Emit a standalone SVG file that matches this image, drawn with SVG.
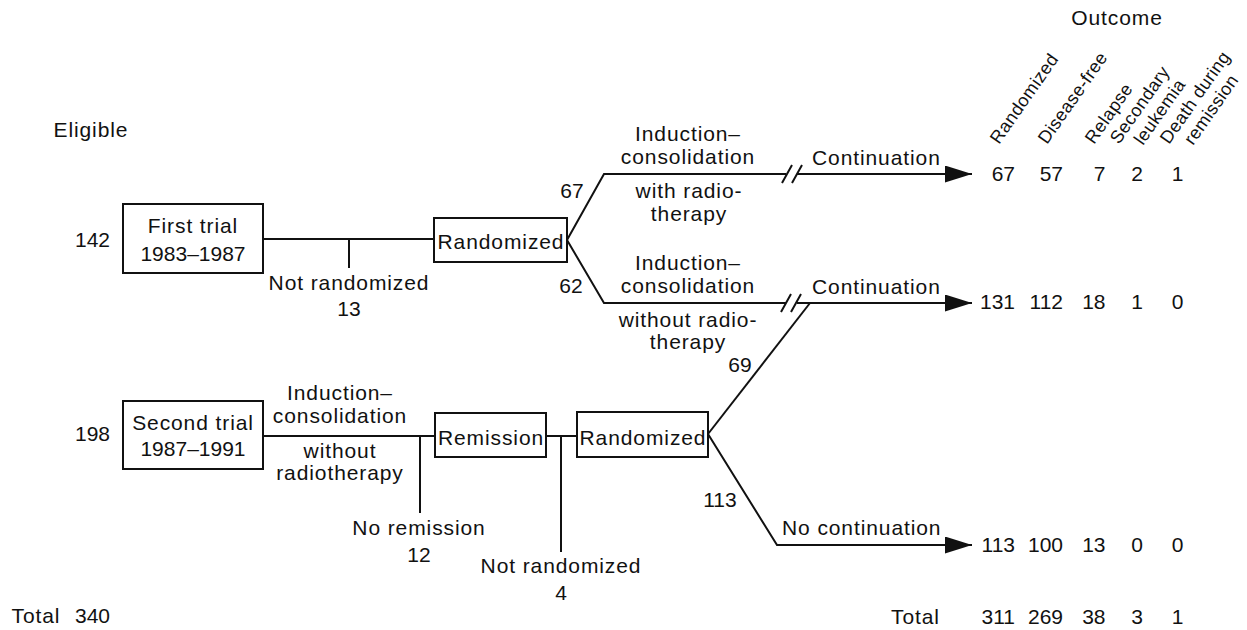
<svg xmlns="http://www.w3.org/2000/svg" width="1247" height="630" viewBox="0 0 1247 630">
<style>
text{font-family:"Liberation Sans",Arial,Helvetica,sans-serif;font-size:21px;letter-spacing:0.9px;fill:#111}
.n{letter-spacing:0}
.m{text-anchor:middle}
.e{text-anchor:end}
.h{font-size:18px;letter-spacing:0.4px}
.box{fill:#fff;stroke:#111;stroke-width:2}
.ln{fill:none;stroke:#111;stroke-width:2}
</style>
<defs>
<marker id="arr" markerUnits="userSpaceOnUse" markerWidth="28" markerHeight="18" refX="27" refY="8.5" orient="auto">
<path d="M0,0 L27,8.5 L0,17 z" fill="#111"/>
</marker>
</defs>
<rect width="1247" height="630" fill="#fff"/>

<g id="connectors">
<path class="ln" d="M263,239 H434"/>
<path class="ln" d="M349,239 V268"/>
<path class="ln" d="M567,240 L604,174 H786"/>
<path class="ln" d="M797,174 H972" marker-end="url(#arr)"/>
<path class="ln" d="M782,183 L792,165 M792,183 L802,165"/>
<path class="ln" d="M567,240 L604,303 H786"/>
<path class="ln" d="M797,303 H972" marker-end="url(#arr)"/>
<path class="ln" d="M781,312 L791,294 M791,312 L801,294"/>
<path class="ln" d="M263,436 H435"/>
<path class="ln" d="M420,436 V513"/>
<path class="ln" d="M546,436 H577"/>
<path class="ln" d="M561,436 V552"/>
<path class="ln" d="M708,434 L810,303"/>
<path class="ln" d="M708,434 L777,545 H972" marker-end="url(#arr)"/>
</g>

<g id="header">
<text x="53.5" y="137">Eligible</text>
<text class="m" x="1117" y="25">Outcome</text>
<text class="h" transform="translate(999,145) rotate(-55)">Randomized</text>
<text class="h" transform="translate(1047,145) rotate(-55)">Disease-free</text>
<text class="h" transform="translate(1094,145) rotate(-55)">Relapse</text>
<text class="h" transform="translate(1119,145) rotate(-55)">Secondary</text>
<text class="h" transform="translate(1143,146) rotate(-55)">leukemia</text>
<text class="h" transform="translate(1169,145) rotate(-55)">Death during</text>
<text class="h" transform="translate(1193,146) rotate(-55)">remission</text>
</g>

<g id="first-trial">
<text class="e n" x="110" y="247">142</text>
<rect class="box" x="123" y="204" width="140" height="69"/>
<text class="m" x="193" y="233">First trial</text>
<text class="m n" x="193" y="261">1983–1987</text>
</g>
<g id="not-randomized-1">
<text class="m" x="349" y="290">Not randomized</text>
<text class="m n" x="349" y="316">13</text>
</g>
<g id="randomized-1">
<rect class="box" x="434" y="218" width="133" height="44"/>
<text class="m" x="501" y="249">Randomized</text>
</g>
<g id="arm-with-rt">
<text class="m n" x="572" y="198">67</text>
<text class="m" x="688" y="141">Induction–</text>
<text class="m" x="688" y="164">consolidation</text>
<text class="m" x="689" y="198">with radio-</text>
<text class="m" x="689" y="221">therapy</text>
<text x="812" y="165">Continuation</text>
</g>
<g id="arm-without-rt">
<text class="m n" x="571" y="293">62</text>
<text class="m" x="688" y="270">Induction–</text>
<text class="m" x="688" y="293">consolidation</text>
<text class="m" x="688" y="327">without radio-</text>
<text class="m" x="688" y="349">therapy</text>
<text x="812" y="294">Continuation</text>
<text class="m n" x="740" y="372">69</text>
</g>

<g id="second-trial">
<text class="e n" x="110" y="441">198</text>
<rect class="box" x="123" y="401" width="140" height="68"/>
<text class="m" x="193" y="430">Second trial</text>
<text class="m n" x="193" y="456">1987–1991</text>
<text class="m" x="340" y="400">Induction–</text>
<text class="m" x="340" y="423">consolidation</text>
<text class="m" x="340" y="458">without</text>
<text class="m" x="340" y="480">radiotherapy</text>
</g>
<g id="no-remission">
<text class="m" x="419" y="535">No remission</text>
<text class="m n" x="419" y="562">12</text>
</g>
<g id="remission">
<rect class="box" x="435" y="413" width="111" height="44"/>
<text class="m" x="491" y="445">Remission</text>
</g>
<g id="not-randomized-2">
<text class="m" x="561" y="573">Not randomized</text>
<text class="m n" x="561" y="600">4</text>
</g>
<g id="randomized-2">
<rect class="box" x="577" y="412" width="131" height="45"/>
<text class="m" x="643" y="445">Randomized</text>
</g>
<g id="no-continuation">
<text class="m n" x="720" y="507">113</text>
<text x="782" y="535">No continuation</text>
</g>

<g id="outcomes" class="n">
<text class="e n" x="1015" y="181">67</text>
<text class="e n" x="1063" y="181">57</text>
<text class="e n" x="1105.5" y="181">7</text>
<text class="e n" x="1143" y="181">2</text>
<text class="e n" x="1183.5" y="181">1</text>

<text class="e n" x="1015" y="309">131</text>
<text class="e n" x="1063" y="309">112</text>
<text class="e n" x="1105.5" y="309">18</text>
<text class="e n" x="1143" y="309">1</text>
<text class="e n" x="1183.5" y="309">0</text>

<text class="e n" x="1015" y="552">113</text>
<text class="e n" x="1063" y="552">100</text>
<text class="e n" x="1105.5" y="552">13</text>
<text class="e n" x="1143" y="552">0</text>
<text class="e n" x="1183.5" y="552">0</text>
</g>

<g id="totals">
<text x="11.5" y="623">Total</text>
<text class="e n" x="110" y="623">340</text>
<text x="891" y="624">Total</text>
<text class="e n" x="1015" y="624">311</text>
<text class="e n" x="1063" y="624">269</text>
<text class="e n" x="1105.5" y="624">38</text>
<text class="e n" x="1143" y="624">3</text>
<text class="e n" x="1183.5" y="624">1</text>
</g>
</svg>
